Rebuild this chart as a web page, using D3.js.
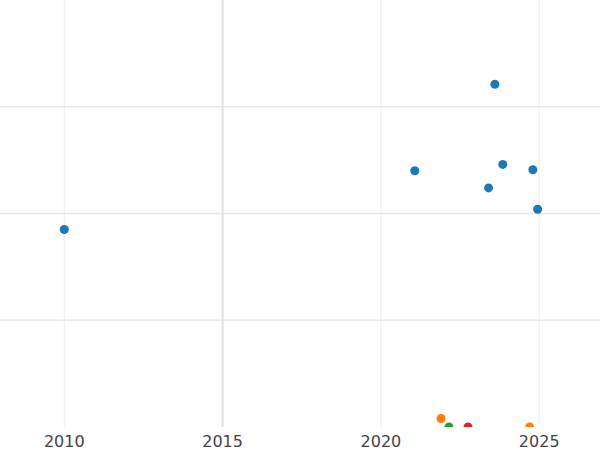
<!DOCTYPE html>
<html><head><meta charset="utf-8">
<script src="https://cdn.jsdelivr.net/npm/d3@7"></script>
<style>body{margin:0;background:#fff}</style>
</head><body>
<div id="chart"></div>
<script>
// point data
var years = [2010.0, 2021.07, 2023.6, 2023.85, 2023.4, 2024.8, 2024.95, 2021.9, 2022.15, 2022.75, 2024.7];
var values = [1.85, 2.40, 3.21, 2.46, 2.24, 2.41, 2.04, 0.08, 0.0, 0.0, 0.0];
var groups = ["a", "a", "a", "a", "a", "a", "a", "b", "c", "d", "b"];
var groupColors = {a: "#1f77b4", b: "#ff7f0e", c: "#2ca02c", d: "#d62728"};
var xTicks = [2010, 2015, 2020, 2025];
var yGrid = [1, 2, 3];

var width = 600, height = 450, plotBottom = 427;
var svg = d3.select("#chart").append("svg").attr("width", width).attr("height", height);

var x = d3.scaleLinear().domain([2007.97, 2026.92]).range([0, width]);
var y = d3.scaleLinear().domain([0, 4]).range([plotBottom, 0]);

svg.append("clipPath").attr("id", "clip")
    .append("rect").attr("width", width).attr("height", plotBottom);

svg.selectAll(".hgrid").data(yGrid).enter().append("line")
    .attr("x1", 0).attr("x2", width)
    .attr("y1", d => y(d)).attr("y2", d => y(d))
    .attr("stroke", "#e6e6e6").attr("stroke-width", 1.5);

svg.selectAll(".vgrid").data(xTicks).enter().append("line")
    .attr("x1", d => x(d)).attr("x2", d => x(d))
    .attr("y1", 0).attr("y2", plotBottom)
    .attr("stroke", d => d === 2015 ? "#e2e2e2" : "#ececec").attr("stroke-width", d => d === 2015 ? 2 : 1);

svg.selectAll(".xlab").data(xTicks).enter().append("text")
    .attr("x", d => x(d)).attr("y", 447)
    .attr("text-anchor", "middle")
    .style("font-family", "DejaVu Sans").style("font-size", "16px").attr("fill", "#444")
    .text(d => d);

svg.append("g").attr("clip-path", "url(#clip)")
    .selectAll("circle").data(years).enter().append("circle")
    .attr("cx", d => x(d))
    .attr("cy", (d, i) => y(values[i]))
    .attr("r", 4.5)
    .attr("fill", (d, i) => groupColors[groups[i]]);
</script>
</body></html>
